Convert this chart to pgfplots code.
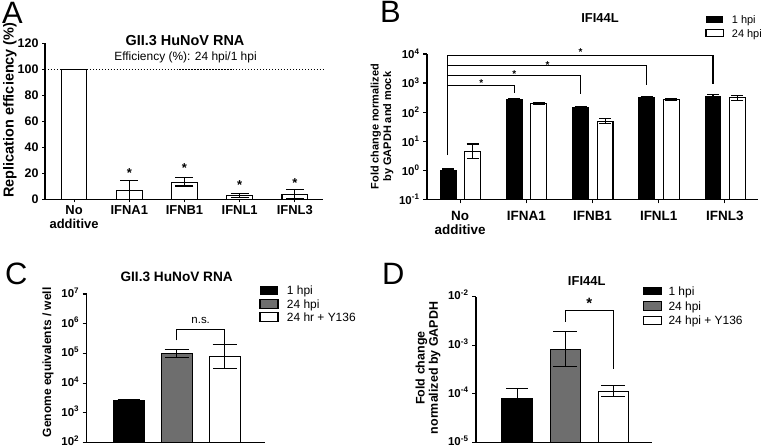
\documentclass[border=0pt]{standalone}
\usepackage{pgfplots}
\pgfplotsset{compat=1.18}
\usepackage{fontspec}
\setmainfont{Liberation Sans}
\newcommand{\fs}[2]{\fontsize{#1}{#2}\selectfont}
\definecolor{bargray}{gray}{0.43}
\pgfplotsset{
  gp/.style={
    scale only axis, anchor=south west, clip=false,
    axis x line*=bottom, axis y line*=left,
    axis line style={-, line width=1.2pt},
    tick align=outside, major tick length=4bp,
    every tick/.style={black, line width=1.1pt},
    /pgf/number format/assume math mode=true,
    minor y tick style={draw=none}, minor x tick style={draw=none},
  },
  bw/.style={ybar, bar shift=0pt, draw=black, line width=1.1pt, fill=white},
  bb/.style={ybar, bar shift=0pt, draw=black, line width=1.1pt, fill=black},
  bg/.style={ybar, bar shift=0pt, draw=black, line width=1.1pt, fill=bargray},
  eb/.style={error bars/.cd, y dir=both, y explicit,
    error bar style={line width=1.1pt, black},
    error mark options={rotate=90, line width=1.1pt, black, mark size=#1}},
}
\begin{document}
\begin{tikzpicture}[x=1bp,y=1bp]
\useasboundingbox (0,0) rectangle (762,448);

% ---------------- Panel A ----------------
\begin{axis}[gp, at={(45bp,248.7bp)}, width=278bp, height=156bp,
  xmin=-0.527, xmax=4.51, ymin=0, ymax=120,
  ytick={0,20,...,120},
  xtick={0,...,4}, xticklabels={{No\\additive},IFNA1,IFNB1,IFNL1,IFNL3},
  x tick label style={font=\fs{13}{13.5}\bfseries, align=center},
  y tick label style={font=\fs{12.5}{14}\bfseries},
  major tick length=3bp,
  ylabel={Replication efficiency (\%)},
  ylabel style={font=\fs{14.5}{16}\bfseries, at={(axis description cs:-0.126,0.572)}, anchor=center},
]
\addplot[bw, bar width=0.465, eb=9bp] coordinates {
  (0,100) +- (0,0)
  (1,6.5) += (0,7.7) -= (0,6.5)
  (2,13) += (0,3.5) -= (0,2.8)
  (3,3.2) += (0,1.5) -= (0,1.5)
  (4,3.8) += (0,3.5) -= (0,3.2)
};
\addplot[line width=1.2pt, dash pattern=on 1.2pt off 1.8pt, forget plot] coordinates {(-0.527,100) (4.51,100)};
\node[font=\fs{13}{14}\bfseries, anchor=base, yshift=-7.5bp] at (axis cs:1,22.5) {*};
\node[font=\fs{13}{14}\bfseries, anchor=base, yshift=-7.5bp] at (axis cs:2,26.4) {*};
\node[font=\fs{13}{14}\bfseries, anchor=base, yshift=-7.5bp] at (axis cs:3,13.5) {*};
\node[font=\fs{13}{14}\bfseries, anchor=base, yshift=-7.5bp] at (axis cs:4,14.8) {*};
\end{axis}

% ---------------- Panel B ----------------
\begin{axis}[gp, at={(427bp,248.7bp)}, width=331bp, height=145.3bp,
  ymode=log, log origin=infty,
  xmin=-0.5, xmax=4.5, ymin=0.1, ymax=10000,
  ytick={0.1,1,10,100,1000,10000},
  yticklabels={10\textsuperscript{-1},10\textsuperscript{0},10\textsuperscript{1},10\textsuperscript{2},10\textsuperscript{3},10\textsuperscript{4}},
  xtick={0,...,4}, xticklabels={{No\\additive},IFNA1,IFNB1,IFNL1,IFNL3},
  x tick label style={font=\fs{13.5}{14}\bfseries, align=center, yshift=-4bp},
  y tick label style={font=\fs{11.5}{13}\bfseries},
  ylabel={Fold change normalized\\by GAPDH and mock},
  ylabel style={font=\fs{11}{12.5}\bfseries, align=center, at={(axis description cs:-0.136,0.5)}, anchor=center},
]
\addplot[bb, bar width=0.24, eb=6bp] coordinates {
  (-0.18,1.0) +- (0,0.1)
  (0.82,275) +- (0,15)
  (1.82,145) +- (0,8)
  (2.82,310) +- (0,40)
  (3.82,330) +- (0,70)
};
\addplot[bw, bar width=0.24, eb=6bp] coordinates {
  (0.19,4.3) += (0,3.7) -= (0,1.8)
  (1.19,200) +- (0,10)
  (2.19,49) += (0,12) -= (0,8)
  (3.19,280) +- (0,20)
  (4.19,310) +- (0,50)
};
\draw[line width=1.1pt] (axis cs:-0.186,3.3) -- (axis cs:-0.186,9120) -- (axis cs:3.82,9120) -- (axis cs:3.82,910);
\draw[line width=1.1pt] (axis cs:-0.186,4000) -- (axis cs:2.82,4000) -- (axis cs:2.82,850);
\draw[line width=1.1pt] (axis cs:-0.186,1820) -- (axis cs:1.82,1820) -- (axis cs:1.82,410);
\draw[line width=1.1pt] (axis cs:-0.186,795) -- (axis cs:0.815,795) -- (axis cs:0.815,470);
\node[font=\fs{10}{12}\bfseries, anchor=base, yshift=-6bp] at (axis cs:1.82,13800) {*};
\node[font=\fs{10}{12}\bfseries, anchor=base, yshift=-6bp] at (axis cs:1.32,5100) {*};
\node[font=\fs{10}{12}\bfseries, anchor=base, yshift=-6bp] at (axis cs:0.82,2570) {*};
\node[font=\fs{10}{12}\bfseries, anchor=base, yshift=-6bp] at (axis cs:0.32,1200) {*};
\end{axis}

% ---------------- Panel C ----------------
\begin{axis}[gp, at={(86.7bp,5.5bp)}, width=178.3bp, height=148.5bp,
  ymode=log, log origin=infty,
  xmin=-0.875, xmax=2.84, ymin=100, ymax=1e7,
  ytick={1e2,1e3,1e4,1e5,1e6,1e7},
  yticklabels={10\textsuperscript{2},10\textsuperscript{3},10\textsuperscript{4},10\textsuperscript{5},10\textsuperscript{6},10\textsuperscript{7}},
  xtick=\empty,
  y tick label style={font=\fs{11.5}{13}\bfseries, yshift=1.5bp},
  ylabel={Genome equivalents / well},
  ylabel style={font=\fs{12}{13}\bfseries, at={(axis description cs:-0.217,0.54)}, anchor=center},
]
\addplot[bb, bar width=0.64, eb=11bp] coordinates {(0,2500) +- (0,300)};
\addplot[bg, bar width=0.64, eb=12bp] coordinates {(1,1e5) += (0,3.8e4) -= (0,2.6e4)};
\addplot[bw, bar width=0.64, eb=12bp] coordinates {(2,8.1e4) += (0,1.24e5) -= (0,4.9e4)};
\draw[line width=1.1pt] (axis cs:1,2.75e5) -- (axis cs:1,6.5e5) -- (axis cs:2,6.5e5) -- (axis cs:2,2.1e5);
\node[font=\fs{11.5}{13}] at (axis cs:1.5,1.3e6) {n.s.};
\end{axis}

% ---------------- Panel D ----------------
\begin{axis}[gp, at={(476bp,5.5bp)}, width=175.7bp, height=146bp,
  ymode=log, log origin=infty,
  xmin=-0.854, xmax=2.8, ymin=1e-5, ymax=1e-2,
  ytick={1e-5,1e-4,1e-3,1e-2},
  yticklabels={10\textsuperscript{-5},10\textsuperscript{-4},10\textsuperscript{-3},10\textsuperscript{-2}},
  xtick=\empty,
  y tick label style={font=\fs{11.5}{13}\bfseries, yshift=1.5bp},
  ylabel={Fold change\\normalized by GAPDH},
  ylabel style={font=\fs{12.5}{13.5}\bfseries, align=center, at={(axis description cs:-0.273,0.51)}, anchor=center},
]
\addplot[bb, bar width=0.64, eb=11bp] coordinates {(0,8.1e-5) += (0,4.8e-5) -= (0,0)};
\addplot[bg, bar width=0.625, eb=12bp] coordinates {(1,8.3e-4) += (0,1.12e-3) -= (0,4.6e-4)};
\addplot[bw, bar width=0.625, eb=12bp] coordinates {(2,1.1e-4) += (0,3.8e-5) -= (0,2.3e-5)};
\draw[line width=1.1pt] (axis cs:1,3.0e-3) -- (axis cs:1,5.1e-3) -- (axis cs:2,5.1e-3) -- (axis cs:2,3.3e-4);
\node[font=\fs{15}{16}\bfseries, anchor=base, yshift=-9bp] at (axis cs:1.5,8.5e-3) {*};
\end{axis}

% ---------------- Titles ----------------
\node[font=\fs{14.5}{16}\bfseries] at (185,407) {GII.3 HuNoV RNA};
\node[font=\fs{12}{14}] at (185.5,390.5) {Efficiency (\%): 24 hpi/1 hpi};
\node[font=\fs{13}{15}\bfseries] at (600,429.5) {IFI44L};
\node[font=\fs{13.7}{15}\bfseries] at (176.7,171.3) {GII.3 HuNoV RNA};
\node[font=\fs{13}{15}\bfseries] at (586.7,167) {IFI44L};

% ---------------- Panel letters ----------------
\node[font=\fs{31}{32}, anchor=base west, inner sep=0pt] at (2,424.7) {A};
\node[font=\fs{31}{32}, anchor=base west, inner sep=0pt] at (380,425) {B};
\node[font=\fs{31}{32}, anchor=base west, inner sep=0pt] at (5,163) {C};
\node[font=\fs{31}{32}, anchor=base west, inner sep=0pt] at (382,163) {D};

% ---------------- Legends ----------------
\fill[black] (706,425.2) rectangle (723.3,432.2);
\draw[line width=1.1pt, fill=white] (706,411.2) rectangle (723.3,418.2);
\node[font=\fs{11}{13}, anchor=base west, inner sep=0pt] at (731.7,424.7) {1 hpi};
\node[font=\fs{11}{13}, anchor=base west, inner sep=0pt] at (731.7,410.7) {24 hpi};

\fill[black] (260,152.8) rectangle (278,161.8);
\draw[line width=1.1pt, fill=bargray] (260,139.2) rectangle (278,148.2);
\draw[line width=1.1pt, fill=white] (260,126.2) rectangle (278,135.2);
\node[font=\fs{12}{14}, anchor=base west, inner sep=0pt] at (286.7,153) {1 hpi};
\node[font=\fs{12}{14}, anchor=base west, inner sep=0pt] at (286.7,139.4) {24 hpi};
\node[font=\fs{12}{14}, anchor=base west, inner sep=0pt] at (286.7,126.4) {24 hr + Y136};

\fill[black] (643.3,152.8) rectangle (661.7,161.2);
\draw[line width=1.1pt, fill=bargray] (643.3,137.8) rectangle (661.7,146.2);
\draw[line width=1.1pt, fill=white] (643.3,123.1) rectangle (661.7,131.5);
\node[font=\fs{12}{14}, anchor=base west, inner sep=0pt] at (668.3,152.7) {1 hpi};
\node[font=\fs{12}{14}, anchor=base west, inner sep=0pt] at (668.3,137.7) {24 hpi};
\node[font=\fs{12}{14}, anchor=base west, inner sep=0pt] at (668.3,123) {24 hpi + Y136};
\end{tikzpicture}
\end{document}
